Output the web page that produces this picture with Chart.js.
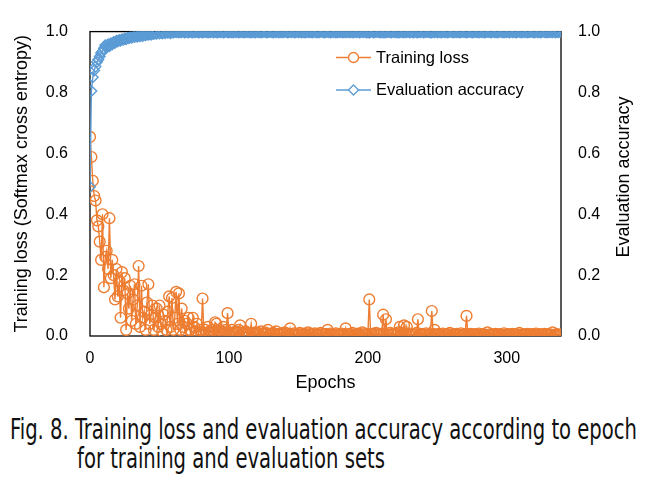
<!doctype html>
<html lang="en"><head>
<meta charset="utf-8"/>
<title>Training loss and evaluation accuracy</title>
<script src="https://cdn.jsdelivr.net/npm/chart.js@4.4.6/dist/chart.umd.min.js"></script>
<style>
  *{box-sizing:border-box}
  html,body{margin:0;background:#fff;width:654px;height:479px;overflow:hidden}
  #wrap{position:absolute;left:0;top:0;width:654px;height:400px}
  .cap{position:absolute;white-space:nowrap;font:28px/28px "Liberation Sans Narrow","DejaVu Sans Condensed","Liberation Sans",sans-serif;color:#111;transform-origin:0 50%}
  #cap1{left:10px;top:416px}
  #cap2{left:77px;top:445px}
</style></head>
<body>
<div id="wrap"><canvas id="c" width="654" height="400"></canvas></div>
<div class="cap" id="cap1">Fig. 8. Training loss and evaluation accuracy according to epoch</div>
<div class="cap" id="cap2">for training and evaluation sets</div>
<script>
// values, one per epoch (0..339)
const lossValues = [
  0.654,0.588,0.51,0.46,0.445,0.38,0.36,0.31,0.25,0.40,0.16,0.26,0.28,0.22,0.387,0.19,0.25,0.20,0.12,0.22,
  0.13,0.18,0.06,0.21,0.15,0.19,0.02,0.14,0.09,0.165,0.05,0.12,0.17,0.04,0.10,0.23,0.03,0.165,0.06,0.08,
  0.02,0.11,0.17,0.04,0.07,0.10,0.02,0.06,0.09,0.03,0.10,0.04,0.015,0.07,0.05,0.02,0.08,0.13,0.03,0.125,
  0.02,0.06,0.145,0.04,0.14,0.02,0.09,0.03,0.05,0.015,0.04,0.06,0.02,0.01,0.06,0.03,0.015,0.04,0.01,0.02,
  0.01,0.123,0.01,0.02,0.008,0.03,0.015,0.01,0.02,0.008,0.045,0.04,0.01,0.02,0.008,0.015,0.03,0.01,0.02,0.075,
  0.01,0.008,0.02,0.01,0.006,0.015,0.01,0.02,0.035,0.008,0.01,0.005,0.015,0.008,0.01,0.006,0.04,0.008,0.005,0.012,
  0.006,0.01,0.004,0.015,0.007,0.005,0.012,0.006,0.02,0.005,0.008,0.004,0.01,0.006,0.015,0.005,0.007,0.004,0.009,0.006,
  0.012,0.005,0.008,0.004,0.025,0.006,0.005,0.009,0.004,0.007,0.005,0.01,0.004,0.006,0.008,0.005,0.004,0.012,0.006,0.005,
  0.007,0.004,0.009,0.005,0.006,0.004,0.01,0.005,0.007,0.004,0.006,0.02,0.005,0.008,0.004,0.006,0.005,0.009,0.004,0.006,
  0.005,0.008,0.004,0.006,0.025,0.005,0.004,0.007,0.005,0.01,0.004,0.006,0.005,0.008,0.004,0.006,0.012,0.005,0.004,0.007,
  0.005,0.12,0.006,0.004,0.008,0.005,0.01,0.004,0.006,0.005,0.008,0.07,0.006,0.055,0.005,0.004,0.01,0.006,0.005,0.008,
  0.004,0.006,0.012,0.03,0.005,0.01,0.035,0.006,0.03,0.005,0.004,0.008,0.005,0.006,0.004,0.01,0.055,0.005,0.007,0.004,
  0.006,0.005,0.009,0.004,0.006,0.005,0.082,0.006,0.02,0.005,0.004,0.007,0.005,0.004,0.008,0.005,0.004,0.006,0.005,0.01,
  0.004,0.006,0.005,0.004,0.007,0.005,0.004,0.009,0.005,0.004,0.006,0.066,0.005,0.004,0.007,0.005,0.004,0.006,0.005,0.004,
  0.008,0.005,0.004,0.006,0.005,0.004,0.012,0.005,0.004,0.006,0.005,0.004,0.007,0.005,0.004,0.006,0.005,0.004,0.009,0.005,
  0.004,0.006,0.005,0.004,0.007,0.005,0.004,0.006,0.005,0.01,0.004,0.005,0.006,0.004,0.005,0.007,0.004,0.005,0.006,0.004,
  0.005,0.008,0.004,0.005,0.006,0.004,0.005,0.007,0.004,0.005,0.006,0.004,0.005,0.012,0.004,0.005,0.006,0.004,0.005,0.004
];
const accValues = [
  0.49,0.805,0.85,0.872,0.885,0.9,0.908,0.918,0.93,0.935,0.945,0.955,0.948,0.958,0.952,0.962,0.958,0.966,0.963,0.97,
  0.968,0.972,0.97,0.975,0.973,0.977,0.975,0.98,0.978,0.982,0.98,0.984,0.982,0.985,0.983,0.987,0.985,0.988,0.986,0.99,
  0.988,0.991,0.99,0.992,0.99,0.994,0.992,0.995,0.993,1.0,0.994,0.996,0.994,0.997,0.995,0.998,0.996,0.997,0.995,0.998,
  0.997,0.999,0.998,1.0,0.997,0.999,0.998,1.0,0.997,0.998,0.999,0.997,1.0,0.998,0.997,0.999,0.998,1.0,0.997,0.998,
  0.999,0.997,0.998,1.0,0.998,0.997,0.999,0.998,1.0,0.997,0.999,0.998,0.997,1.0,0.998,0.999,0.997,0.998,1.0,0.998,
  0.997,0.999,0.998,0.997,1.0,0.998,0.999,0.997,0.998,1.0,0.998,0.997,0.999,0.998,1.0,0.997,0.998,0.999,0.998,0.997,
  1.0,0.998,0.999,0.997,0.998,1.0,0.999,0.997,0.998,0.999,1.0,0.998,0.997,0.999,0.998,1.0,0.997,0.999,0.998,0.998,
  0.999,1.0,0.997,0.998,0.999,0.998,1.0,0.997,0.998,0.999,0.998,1.0,0.997,0.999,0.998,0.997,1.0,0.998,0.999,0.998,
  0.997,1.0,0.998,0.999,0.997,0.998,1.0,0.999,0.998,0.997,0.999,1.0,0.998,0.997,0.999,0.998,1.0,0.997,0.998,0.999,
  0.998,1.0,0.997,0.999,0.998,0.998,1.0,0.997,0.999,0.998,0.997,1.0,0.998,0.999,0.997,0.998,1.0,0.998,0.999,0.997,
  0.998,0.996,0.999,1.0,0.997,0.998,0.999,1.0,0.998,0.997,0.999,0.997,0.998,0.997,1.0,0.999,0.998,0.997,1.0,0.998,
  0.999,0.997,0.998,0.997,1.0,0.998,0.997,0.999,0.998,1.0,0.997,0.999,0.998,0.997,1.0,0.998,0.997,0.999,0.998,1.0,
  0.997,0.998,0.999,1.0,0.998,0.997,0.997,0.999,0.998,1.0,0.997,0.999,0.998,0.997,1.0,0.998,0.999,0.997,0.998,1.0,
  0.999,0.998,0.997,1.0,0.998,0.999,0.997,0.998,1.0,0.999,0.998,0.997,0.998,1.0,0.999,0.997,0.998,1.0,0.998,0.999,
  0.997,1.0,0.998,0.999,0.997,0.998,1.0,0.999,0.998,0.997,1.0,0.998,0.999,0.997,0.998,1.0,0.999,0.998,0.997,1.0,
  0.998,0.999,0.997,1.0,0.998,0.999,0.998,0.997,1.0,0.999,0.998,0.997,1.0,0.998,0.999,0.997,0.998,1.0,0.999,0.998,
  0.997,1.0,0.998,0.999,0.997,0.998,1.0,0.999,0.998,0.997,1.0,0.998,0.999,0.998,1.0,0.997,0.999,0.998,1.0,1.0
];
const yTicks = [0, 0.2, 0.4, 0.6, 0.8, 1.0];
const xTicks = [0, 100, 200, 300];
const seriesNames = ['Training loss', 'Evaluation accuracy'];
const xTitle = 'Epochs';
const yLeftTitle = 'Training loss (Softmax cross entropy)';
const yRightTitle = 'Evaluation accuracy';

const ORANGE = '#ED7D31', BLUE = '#5B9BD5', FONT = '"Liberation Sans", Arial, sans-serif';
const PLOT = {left: 90, right: 561, top: 18, bottom: 336};

const frame = {
  id: 'frame',
  beforeDatasetsDraw(chart) {
    const {ctx, chartArea: a} = chart;
    ctx.save();
    ctx.strokeStyle = '#000'; ctx.lineWidth = 1.3;
    ctx.strokeRect(a.left, a.top, a.right - a.left, a.bottom - a.top);
    ctx.restore();
  }
};

const extras = {
  id: 'extras',
  afterDraw(chart) {
    const {ctx} = chart;
    ctx.save();
    // right axis title, reading bottom to top like the left one
    ctx.fillStyle = '#000';
    ctx.font = '18px ' + FONT;
    ctx.textAlign = 'center'; ctx.textBaseline = 'middle';
    ctx.translate(624, (PLOT.top + PLOT.bottom) / 2);
    ctx.rotate(-Math.PI / 2);
    ctx.fillText(yRightTitle, 0, 0);
    ctx.restore();
    // legend inside the plot: line + marker + label
    const items = [[ORANGE, 'circle', 57.5], [BLUE, 'rectRot', 90]];
    ctx.save();
    ctx.font = '16.5px ' + FONT;
    ctx.textBaseline = 'middle';
    items.forEach((it, i) => {
      const [col, shape, y] = it;
      ctx.strokeStyle = col; ctx.lineWidth = 1.3;
      ctx.beginPath(); ctx.moveTo(336, y); ctx.lineTo(371, y); ctx.stroke();
      ctx.fillStyle = '#fff';
      Chart.helpers.drawPoint(ctx, {pointStyle: shape, radius: shape === 'circle' ? 5 : 5, borderWidth: 1.3}, 353.5, y);
      ctx.fillStyle = '#000';
      ctx.fillText(seriesNames[i], 376, y + 0.5);
    });
    ctx.restore();
  }
};

const tickFont = {family: FONT, size: 16};
new Chart(document.getElementById('c'), {
  type: 'line',
  data: {
    datasets: [
      {label: seriesNames[0], yAxisID: 'y', order: 2,
       data: lossValues.map((v, i) => ({x: i, y: v})),
       borderColor: ORANGE, borderWidth: 1.4, pointStyle: 'circle', pointRadius: 5.4,
       pointBorderWidth: 1.4, pointBorderColor: ORANGE, pointBackgroundColor: 'rgba(0,0,0,0)'},
      {label: seriesNames[1], yAxisID: 'y2', order: 1,
       data: accValues.map((v, i) => ({x: i, y: v})),
       borderColor: BLUE, borderWidth: 1.4, pointStyle: 'rectRot', pointRadius: 5.3,
       pointBorderWidth: 1.4, pointBorderColor: BLUE, pointBackgroundColor: 'rgba(0,0,0,0)'}
    ]
  },
  options: {
    responsive: false, animation: false, devicePixelRatio: 1,
    layout: {padding: {top: PLOT.top, left: 0, right: 0, bottom: 0}},
    plugins: {legend: {display: false}, tooltip: {enabled: false}},
    scales: {
      x: {type: 'linear', min: 0, max: accValues.length - 1,
          afterBuildTicks: s => { s.ticks = xTicks.map(v => ({value: v})); },
          afterFit: s => { s.height = 400 - PLOT.bottom; },
          grid: {display: false, drawTicks: false}, border: {display: false},
          ticks: {font: tickFont, color: '#000', padding: 13, maxRotation: 0},
          title: {display: true, text: xTitle, color: '#000', font: {family: FONT, size: 18}, padding: {top: 0, bottom: 6}}},
      y: {position: 'left', min: 0, max: 1,
          afterBuildTicks: s => { s.ticks = yTicks.map(v => ({value: v})); },
          afterFit: s => { s.width = PLOT.left; },
          grid: {display: false, drawTicks: false}, border: {display: false},
          ticks: {font: tickFont, color: '#000', padding: 22, callback: v => v.toFixed(1)},
          title: {display: true, text: yLeftTitle, color: '#000', font: {family: FONT, size: 18}, padding: {top: 11, bottom: 0}}},
      y2: {position: 'right', min: 0, max: 1,
          afterBuildTicks: s => { s.ticks = yTicks.map(v => ({value: v})); },
          afterFit: s => { s.width = 654 - PLOT.right; },
          grid: {display: false, drawTicks: false}, border: {display: false},
          ticks: {font: tickFont, color: '#000', padding: 17, callback: v => v.toFixed(1)}}
    }
  },
  plugins: [frame, extras]
});

// squeeze caption to the figure's measured width
const c1 = document.getElementById('cap1'), c2 = document.getElementById('cap2');
const k = 627 / c1.getBoundingClientRect().width;
c1.style.transform = c2.style.transform = 'scaleX(' + k + ')';
</script>
</body></html>
